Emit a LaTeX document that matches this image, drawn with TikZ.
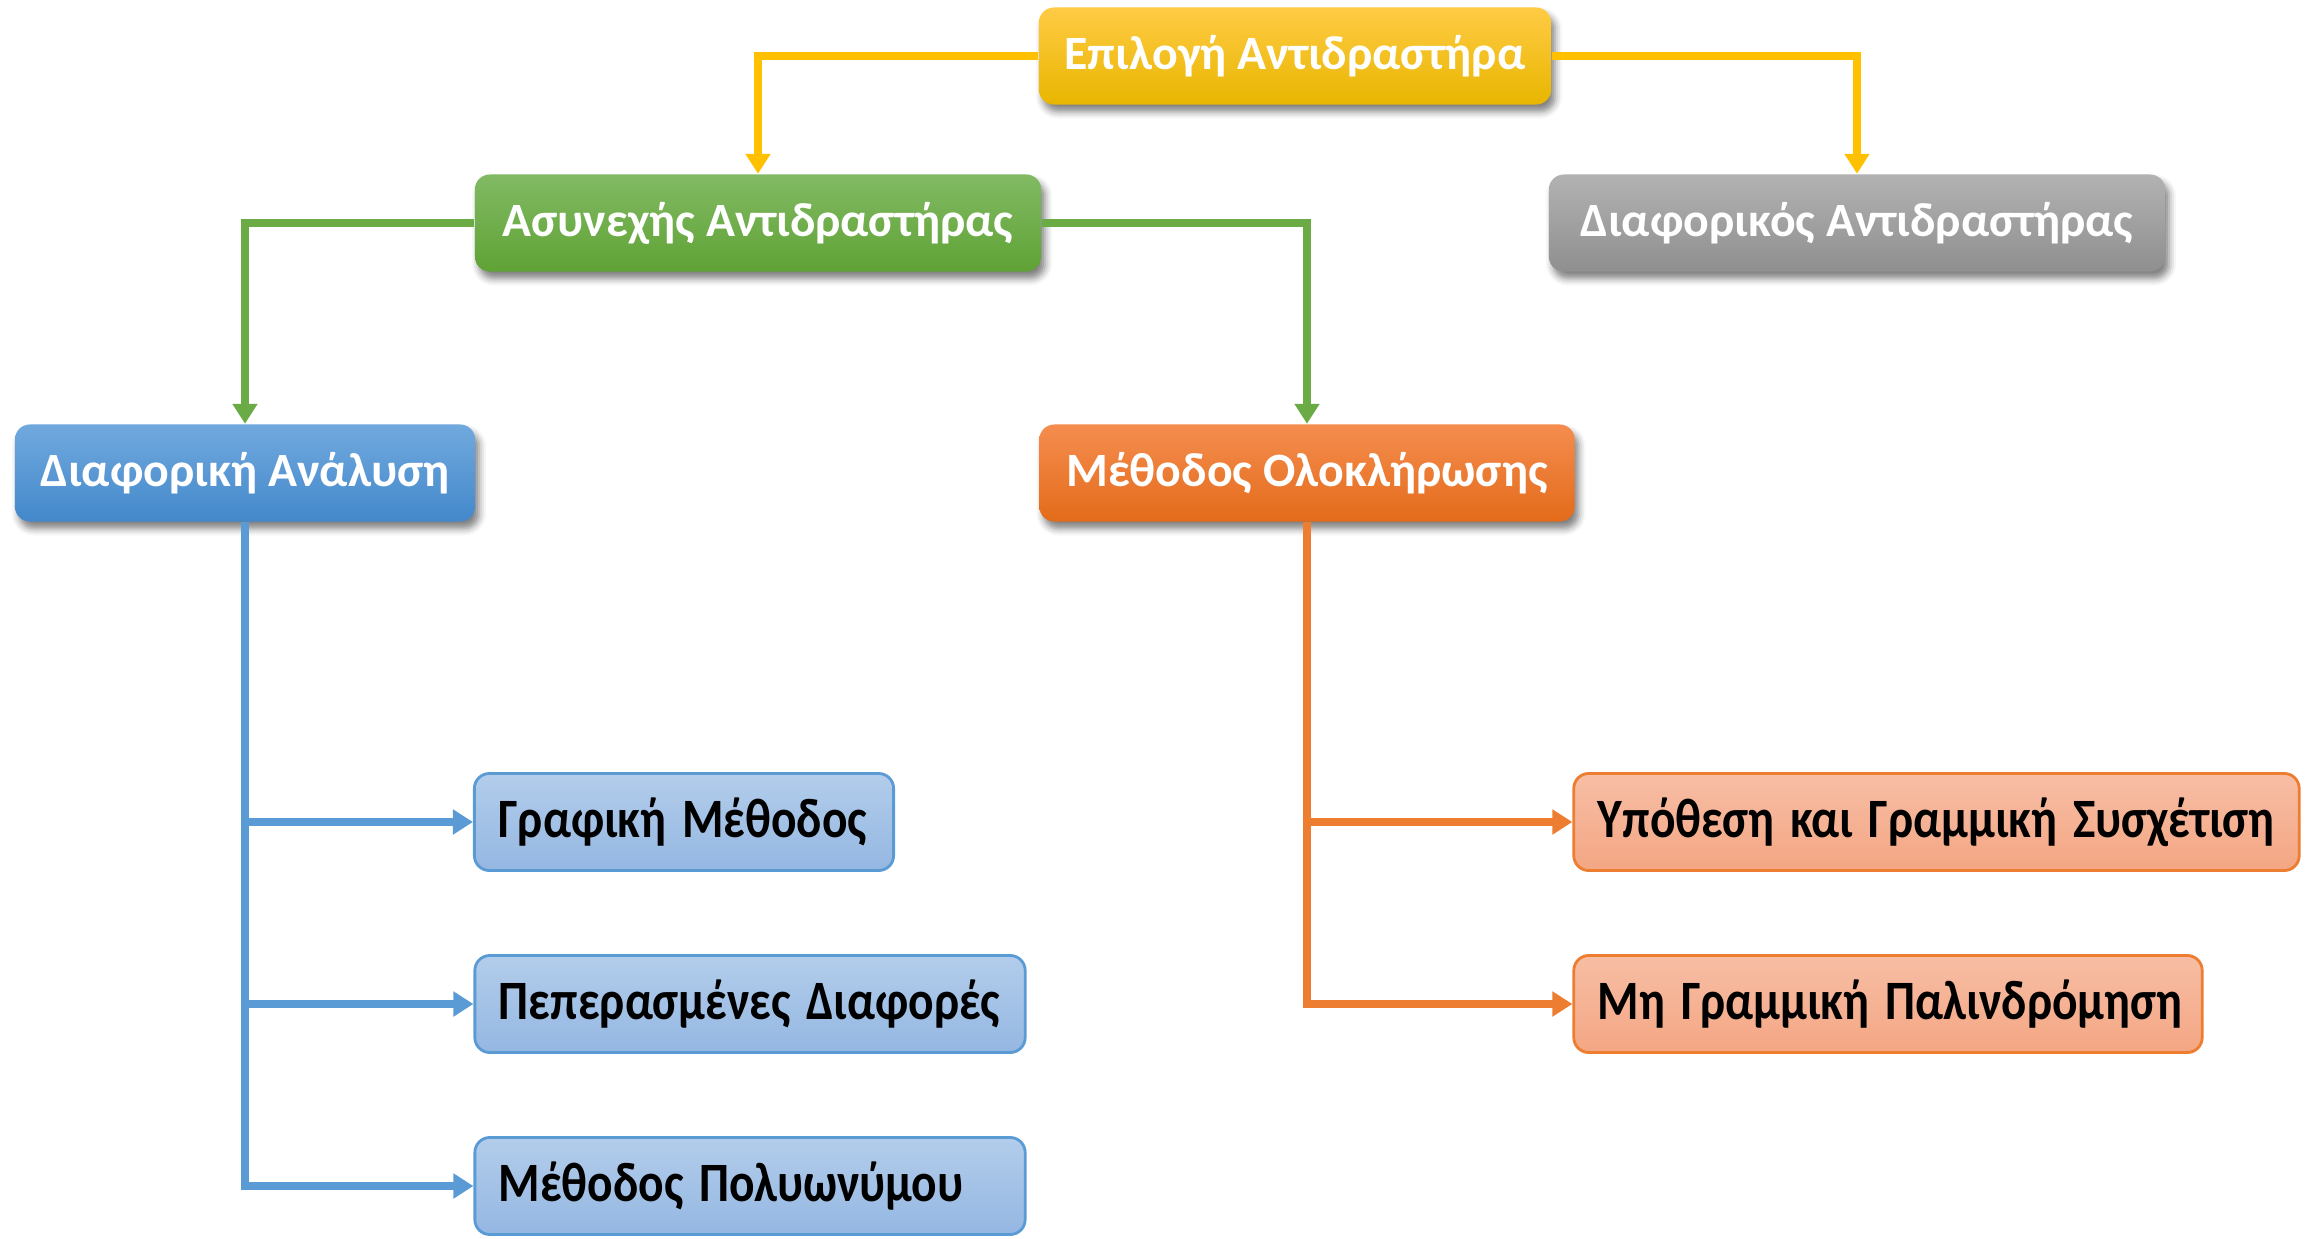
\documentclass[tikz,border=0pt]{standalone}
\usepackage{fontspec}
\setmainfont{Carlito}
\usetikzlibrary{arrows.meta,shadows.blur}

% narrow labels for the leaf boxes
\newcommand\narrowlbl[1]{\scalebox{0.855}[1]{#1}}

% palette
\definecolor{ylwTop}{HTML}{FFCB45}
\definecolor{ylwBot}{HTML}{E8B600}
\definecolor{ylwLine}{HTML}{FFC000}
\definecolor{grnTop}{HTML}{82BA64}
\definecolor{grnBot}{HTML}{5FA235}
\definecolor{grnLine}{HTML}{6AAB45}
\definecolor{gryTop}{HTML}{B2B2B2}
\definecolor{gryBot}{HTML}{8F8F8F}
\definecolor{bluTop}{HTML}{71A9DE}
\definecolor{bluBot}{HTML}{4388CB}
\definecolor{bluLine}{HTML}{5B9BD5}
\definecolor{orgTop}{HTML}{F58D4F}
\definecolor{orgBot}{HTML}{E36B1A}
\definecolor{orgLine}{HTML}{ED7D31}
\definecolor{lbTop}{HTML}{B3CDEB}
\definecolor{lbBot}{HTML}{94B7E2}
\definecolor{loTop}{HTML}{F7BEA5}
\definecolor{loBot}{HTML}{F4A683}

\tikzset{
  x=0.01cm, y=-0.01cm,
  headbox/.style={rounded corners=0.15cm, minimum height=0.97cm, text=white,
    font=\fontsize{13.6}{16}\selectfont\bfseries, align=center, inner xsep=0pt,
    blur shadow={shadow xshift=0.04cm, shadow yshift=-0.07cm,
      shadow blur radius=0.07cm, shadow opacity=50}},
  leafbox/.style={rounded corners=0.15cm, minimum height=0.97cm, text=black,
    font=\fontsize{15.8}{18}\selectfont\bfseries, align=left,
    inner xsep=0.24cm, line width=0.8pt},
  link/.style={line width=2.4pt, -{Triangle[width=0.24cm,length=0.2cm]}},
}

\begin{document}
\begin{tikzpicture}
\useasboundingbox (0,0) rectangle (2305,1239);

% top level
\node[headbox, minimum width=5.12cm, top color=ylwTop, bottom color=ylwBot]
  (sel) at (1295,56) {Επιλογή Αντιδραστήρα};

% reactor types
\node[headbox, minimum width=5.66cm, top color=grnTop, bottom color=grnBot]
  (batch) at (758,223) {Ασυνεχής Αντιδραστήρας};
\node[headbox, minimum width=6.16cm, top color=gryTop, bottom color=gryBot]
  (diffr) at (1857,223) {Διαφορικός Αντιδραστήρας};

% analysis methods
\node[headbox, minimum width=4.60cm, top color=bluTop, bottom color=bluBot]
  (dan) at (245,473) {Διαφορική Ανάλυση};
\node[headbox, minimum width=5.35cm, top color=orgTop, bottom color=orgBot]
  (integ) at (1307,473) {Μέθοδος Ολοκλήρωσης};

% differential sub-methods
\node[leafbox, draw=bluLine, top color=lbTop, bottom color=lbBot,
  text width=3.71cm] (graph) at (684,822) {\narrowlbl{Γραφική Μέθοδος}};
\node[leafbox, draw=bluLine, top color=lbTop, bottom color=lbBot,
  text width=5.02cm] (finite) at (750,1004) {\narrowlbl{Πεπερασμένες Διαφορές}};
\node[leafbox, draw=bluLine, top color=lbTop, bottom color=lbBot,
  text width=5.02cm] (poly) at (750,1186) {\narrowlbl{Μέθοδος Πολυωνύμου}};

% integral sub-methods
\node[leafbox, draw=orgLine, top color=loTop, bottom color=loBot,
  text width=6.77cm] (lin) at (1936.5,822) {\narrowlbl{Υπόθεση και Γραμμική Συσχέτιση}};
\node[leafbox, draw=orgLine, top color=loTop, bottom color=loBot,
  text width=5.80cm] (nonlin) at (1888,1004) {\narrowlbl{Μη Γραμμική Παλινδρόμηση}};

% connectors
\draw[link, ylwLine] (sel.west) -| (batch.north);
\draw[link, ylwLine] (sel.east) -| (diffr.north);
\draw[link, grnLine] (batch.west) -| (dan.north);
\draw[link, grnLine] (batch.east) -| (integ.north);
\draw[link, bluLine] (dan.south) |- (graph.west);
\draw[link, bluLine] (dan.south) |- (finite.west);
\draw[link, bluLine] (dan.south) |- (poly.west);
\draw[link, orgLine] (integ.south) |- (lin.west);
\draw[link, orgLine] (integ.south) |- (nonlin.west);
\end{tikzpicture}
\end{document}
